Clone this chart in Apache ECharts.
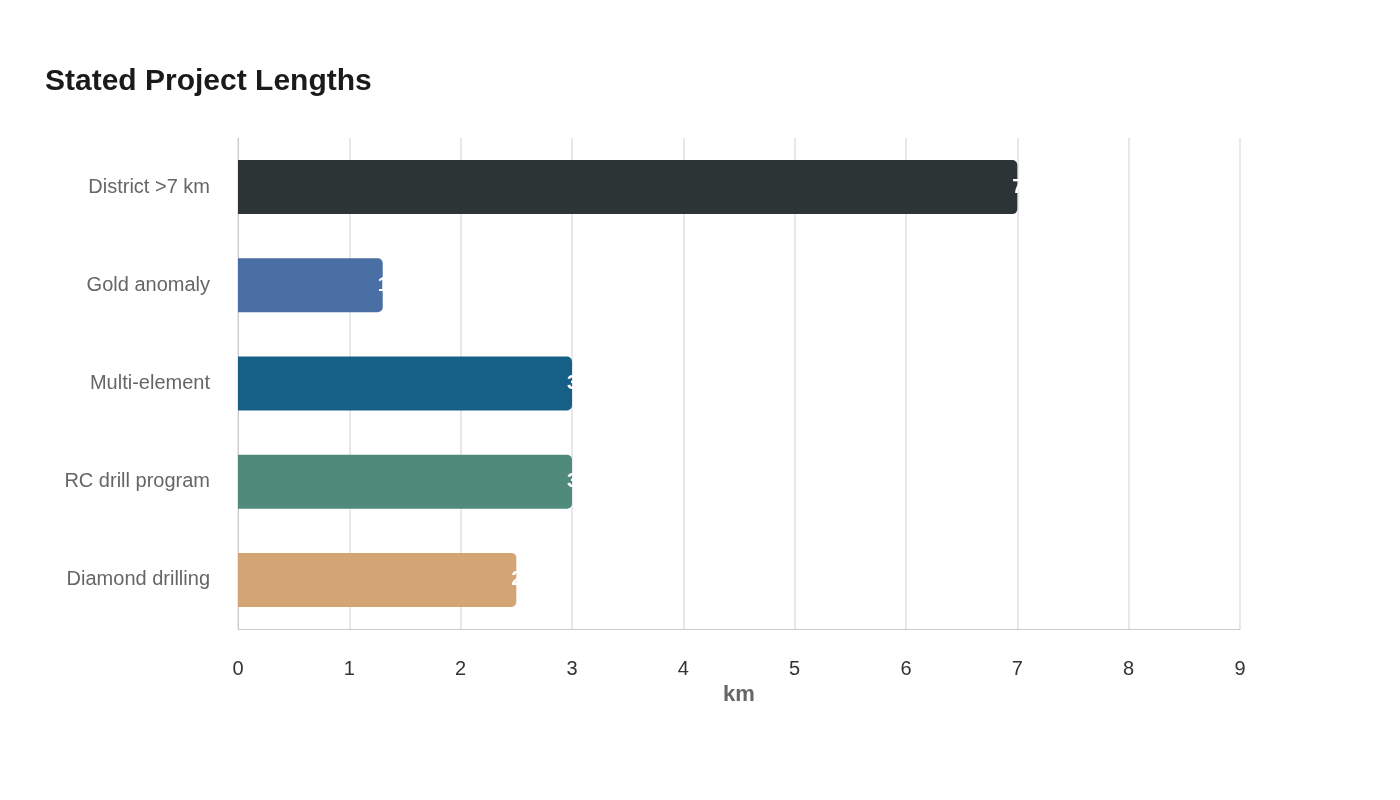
<!DOCTYPE html>
<html><head><meta charset="utf-8">
<script src="https://cdn.jsdelivr.net/npm/echarts@6/dist/echarts.min.js"></script>
<style>html,body{margin:0;padding:0;background:#fff}#c{width:1400px;height:800px}</style>
</head><body><div id="c"></div>
<script>
const categories = ["District >7 km","Gold anomaly","Multi-element","RC drill program","Diamond drilling"];
const values = [7, 1.3, 3, 3, 2.5];
const colors = ["#2d3436","#4a6fa5","#166088","#4f8a7a","#d4a574"];
const chart = echarts.init(document.getElementById('c'));
chart.setOption({
  backgroundColor:'#fff',
  textStyle:{fontFamily:'Liberation Sans, Arial, sans-serif'},
  title:{text:'Stated Project Lengths',left:40,top:62,textStyle:{fontSize:30,fontWeight:'bold',color:'#1a1a1a',fontFamily:'Liberation Sans, Arial, sans-serif'}},
  grid:{left:238,right:160,top:138,bottom:171,containLabel:false},
  xAxis:{type:'value',min:0,max:9,interval:1,name:'km',nameLocation:'middle',nameGap:48,
    nameTextStyle:{fontSize:22,fontWeight:'bold',color:'#666'},
    axisLine:{show:true,lineStyle:{color:'#ccc'}},axisTick:{show:false},
    axisLabel:{fontSize:20,color:'#333',margin:30},
    splitLine:{lineStyle:{color:'#e8e8e8',width:2}}},
  yAxis:{type:'category',inverse:true,data:categories,
    axisLine:{show:true,lineStyle:{color:'#ccc'}},axisTick:{show:false},
    axisLabel:{fontSize:20,color:'#666',margin:28}},
  series:[{type:'bar',barWidth:54,
    data:values.map((v,i)=>({value:v,itemStyle:{color:colors[i]}})),
    itemStyle:{borderRadius:[0,5,5,0]},
    label:{show:true,position:'right',distance:-5,color:'#fff',fontSize:20,fontWeight:'bold'}}]
});
</script></body></html>
